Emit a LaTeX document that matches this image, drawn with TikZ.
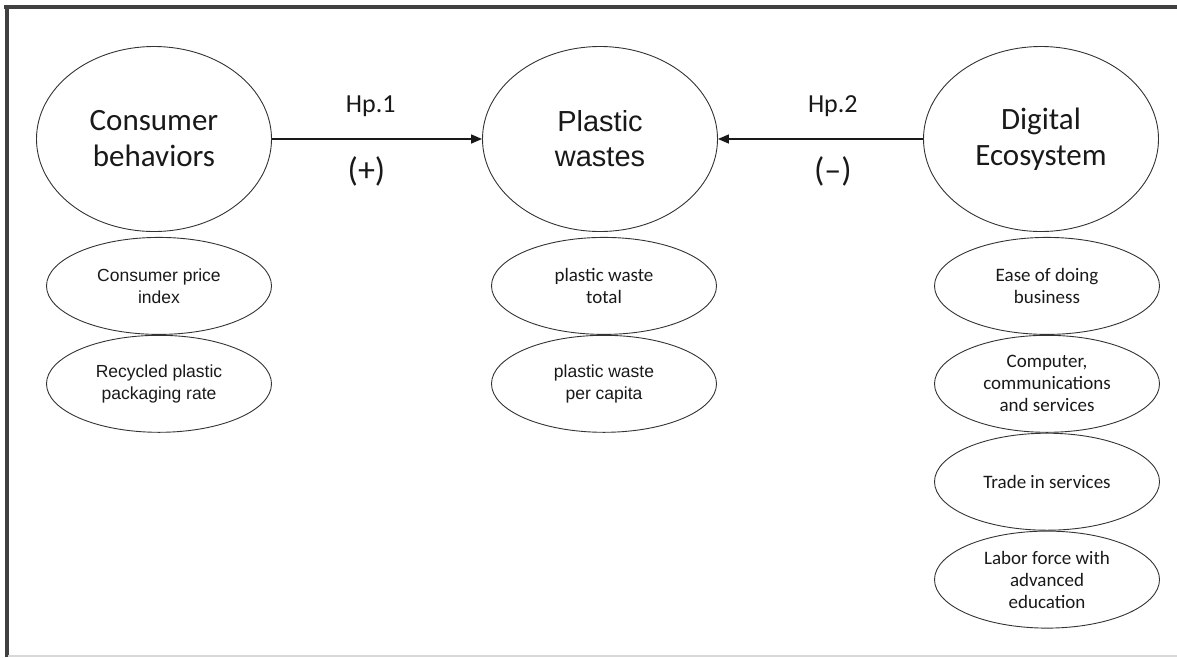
\documentclass[tikz,border=0pt]{standalone}
\usepackage{fontspec}
\setmainfont{Carlito}
\newfontfamily\arialfont{Liberation Sans}
\usepackage{tikz}
\usetikzlibrary{arrows.meta,positioning,shapes.geometric}

\begin{document}
\begin{tikzpicture}[
  x=1pt, y=-1pt,
  every node/.style={text=black!90},
  construct/.style={ellipse, draw=black!80, line width=0.9pt, inner sep=0pt, minimum width=235pt, minimum height=185pt, align=center, font=\fontsize{31}{36}\selectfont},
  indicator/.style={ellipse, draw=black!80, line width=0.9pt, inner sep=0pt, minimum width=225pt, minimum height=97pt, align=center, font=\fontsize{19}{22}\selectfont},
  arialtxt/.style={font=\arialfont\fontsize{17.5}{22}\selectfont},
  hyp/.style={inner sep=0pt, font=\fontsize{26}{30}\selectfont},
  sign/.style={inner sep=0pt, font=\fontsize{34}{38}\selectfont},
  arr/.style={-{Triangle[length=11pt, width=9pt]}, line width=1.6pt, black!90},
  frame/.style={line width=3.5pt, black!75}
]
\useasboundingbox (0,0) rectangle (1177,657);

\draw[frame] (4,7) -- (1177,7);
\draw[frame] (7,6) -- (7,657);
\draw[gray!30, line width=1.5pt] (8,656) -- (1177,656);

\node[construct] (cb) at (154,139) {Consumer\\behaviors};
\node[construct, font=\arialfont\fontsize{29}{35}\selectfont] (pw) at (600,139) {Plastic\\wastes};
\node[construct] (de) at (1041,139) {Digital\\Ecosystem};

\node[indicator, arialtxt, below=5pt of cb, xshift=5pt] (cpi) {Consumer price\\index};
\node[indicator, arialtxt, below=0pt of cpi] (rpp) {Recycled plastic\\packaging rate};

\node[indicator, below=5pt of pw, xshift=4pt] (pwt) {plastic waste\\total};
\node[indicator, arialtxt, below=0pt of pwt] (pwc) {plastic waste\\per capita};

\node[indicator, below=5pt of de, xshift=6pt] (edb) {Ease of doing\\business};
\node[indicator, below=0pt of edb] (ccs) {Computer,\\communications\\and services};
\node[indicator, below=0pt of ccs] (tis) {Trade in services};
\node[indicator, below=0pt of tis] (lfe) {Labor force with\\advanced\\education};

\draw[arr] (cb) -- node[hyp, above=22pt, pos=0.47] {Hp.1} node[sign, below=17pt, pos=0.45] {(+)} (pw);
\draw[arr] (de) -- node[hyp, above=22pt, pos=0.44] {Hp.2} node[sign, below=17pt, pos=0.44] {(–)} (pw);
\end{tikzpicture}
\end{document}
